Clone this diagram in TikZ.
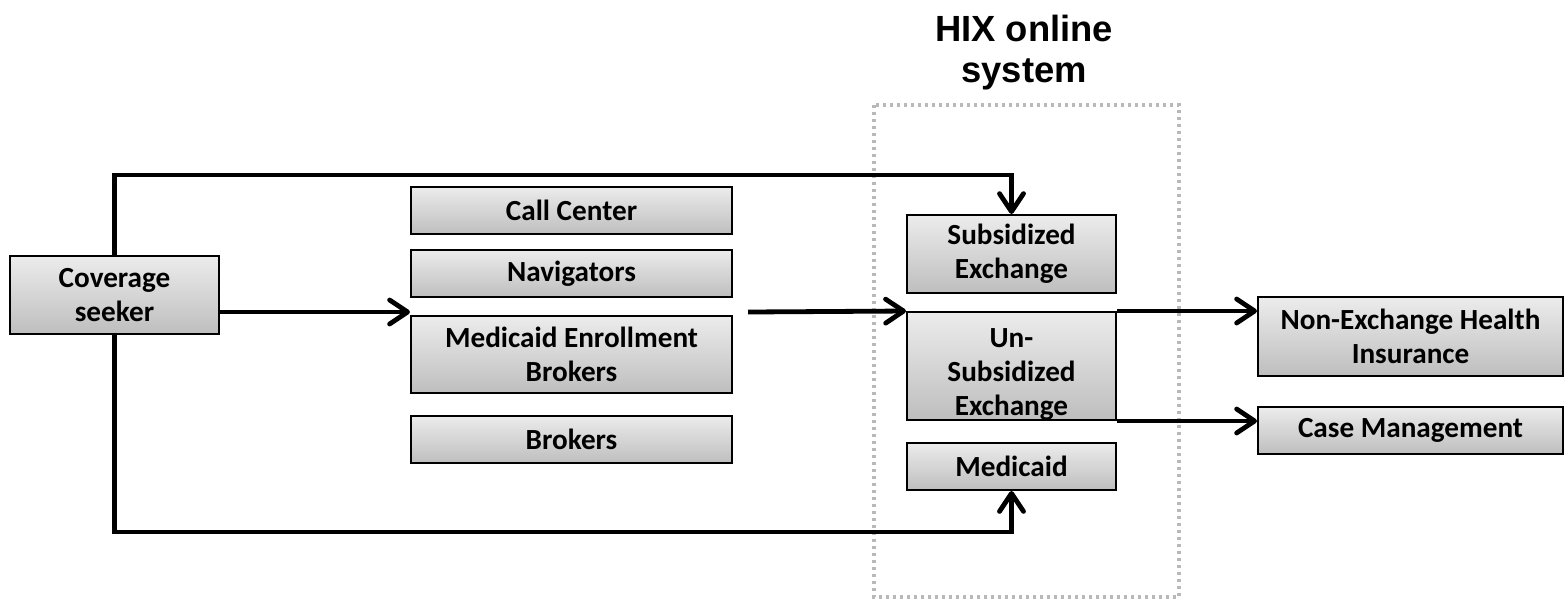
\documentclass[tikz,border=0pt]{standalone}
\usepackage{fontspec}
\setmainfont{Carlito}
\newfontfamily\titlefont{Liberation Sans}
\usetikzlibrary{arrows.meta}
\definecolor{boxtop}{RGB}{236,236,236}
\definecolor{boxbot}{RGB}{190,190,190}
\definecolor{framegray}{RGB}{185,185,185}
\begin{document}
\begin{tikzpicture}[x=0.5pt,y=-0.5pt,
  boxtext/.style={align=center, inner sep=0pt, font=\fontsize{14.6}{17}\selectfont\bfseries},
  box/.style={draw=black, line width=1pt, top color=boxtop, bottom color=boxbot, boxtext},
  arr/.style={line width=2.4pt, -{Straight Barb[length=9pt,width=12pt,line width=2.4pt,round]}},
  frame/.style={draw=framegray, line width=1.7pt, dash pattern=on 1.6pt off 1.9pt}]
\useasboundingbox (0,0) rectangle (1566,602);
% HIX frame
\draw[frame] (874,105) rectangle (1179,597);
\node[font=\titlefont\fontsize{18.2}{20.5}\selectfont\bfseries, align=center] (title) at (1024,53) {HIX online\\system};
% boxes
\node[box, minimum width=104.5pt, minimum height=39pt] (seek) at (114.5,295) {Coverage\\seeker};
\node[box, minimum width=160.5pt, minimum height=23.5pt] (call) at (571.5,210.5) {Call Center};
\node[box, minimum width=160.5pt, minimum height=23.5pt] (nav) at (571.5,273.5) {Navigators};
\node[box, minimum width=160.5pt, minimum height=38.5pt] (meb) at (571.5,354.5) {Medicaid Enrollment\\Brokers};
\node[box, minimum width=160.5pt, minimum height=23.5pt] (brok) at (571.5,439.5) {Brokers};
\node[box, minimum width=104.5pt, minimum height=39pt] (sub) at (1011.5,254) {Subsidized\\Exchange};
\node[box, minimum width=104.5pt, minimum height=54pt,
  label={[boxtext, yshift=-4pt]center:{Un-\\Subsidized\\Exchange}}] (unsub) at (1011.5,366) {};
\node[box, minimum width=104.5pt, minimum height=23.5pt] (medi) at (1011.5,466.5) {Medicaid};
\node[box, minimum width=152.5pt, minimum height=39.5pt] (nonex) at (1410.5,336.5) {Non-Exchange Health\\Insurance};
\node[box, minimum width=152.5pt, minimum height=23.5pt] (case) at (1410.5,430.5) {Case Management};
% helper coordinates
\coordinate (topy) at (0,175);
\coordinate (boty) at (0,532);
\coordinate (midin) at (410,312);
\coordinate (midout) at (748,312);
% connectors
\draw[arr] (seek.north) -- (seek.north |- topy) -| (sub.north);
\draw[arr] (seek.south) -- (seek.south |- boty) -| (medi.south);
\draw[arr] (seek.east |- midin) -- (midin);
\draw[arr] (midout) -- (unsub.north west);
\draw[arr] (unsub.north east) -- (nonex.west |- unsub.north east);
\draw[arr] (unsub.south east) -- (case.west |- unsub.south east);
\end{tikzpicture}
\end{document}
